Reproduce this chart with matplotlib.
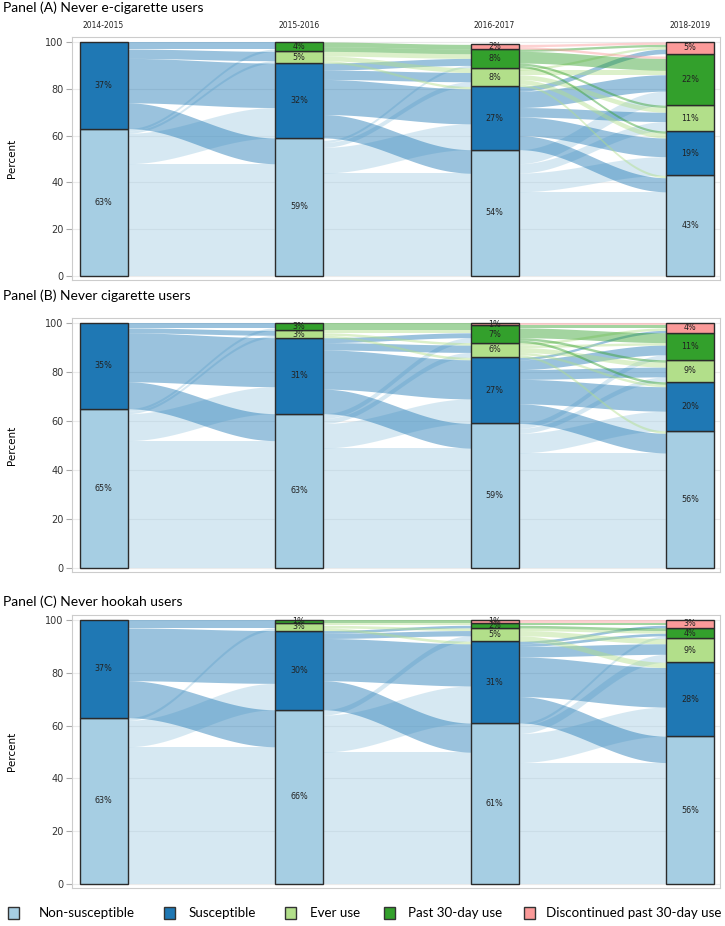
import numpy as np
import matplotlib
matplotlib.use("Agg")
import matplotlib.pyplot as plt
from matplotlib.patches import Rectangle

categories = ["Non-susceptible", "Susceptible", "Ever use", "Past 30-day use",
              "Discontinued past 30-day use"]
waves = ["2014-2015", "2015-2016", "2016-2017", "2018-2019"]
colors = ["#a6cee3", "#1f78b4", "#b2df8a", "#33a02c", "#fb9a99"]

titles = ["Panel (A) Never e-cigarette users",
          "Panel (B) Never cigarette users",
          "Panel (C) Never hookah users"]

# Stratum percentages per wave (NS, S, Ever, Past30, Discontinued)
a_strata = [[63, 37, 0, 0, 0], [59, 32, 5, 4, 0], [54, 27, 8, 8, 2], [43, 19, 11, 22, 5]]
b_strata = [[65, 35, 0, 0, 0], [63, 31, 3, 3, 0], [59, 27, 6, 7, 1], [56, 20, 9, 11, 4]]
c_strata = [[63, 37, 0, 0, 0], [66, 30, 3, 1, 0], [61, 31, 5, 2, 1], [56, 28, 9, 4, 3]]

# Flows between waves (rows = source stratum, cols = destination stratum)
a_flow_1 = [[48, 13, 1, 1, 0], [11, 19, 4, 3, 0]]
a_flow_2 = [[44, 11, 2, 1, 0], [10, 15, 4, 3, 0], [0, 1, 2, 2, 0], [0, 0, 0, 2, 2]]
a_flow_3 = [[36, 8, 4, 6, 0], [6, 8, 4, 7, 2], [1, 2, 2, 2, 1], [0, 1, 1, 5, 1], [0, 0, 0, 1, 1]]

b_flow_1 = [[52, 11, 1, 1, 0], [11, 20, 2, 2, 0]]
b_flow_2 = [[49, 10, 2, 2, 0], [10, 16, 3, 2, 0], [0, 1, 1, 1, 0], [0, 0, 0, 2, 1]]
b_flow_3 = [[47, 8, 2, 2, 0], [8, 10, 4, 4, 1], [1, 1, 2, 1, 1], [0, 1, 1, 4, 1], [0, 0, 0, 0, 1]]

c_flow_1 = [[52, 10, 1, 0, 0], [14, 20, 2, 1, 0]]
c_flow_2 = [[50, 14, 2, 0, 0], [11, 16, 2, 1, 0], [0, 1, 1, 1, 0], [0, 0, 0, 0, 1]]
c_flow_3 = [[46, 11, 3, 1, 0], [10, 15, 4, 1, 1], [0, 2, 2, 1, 0], [0, 0, 0, 1, 1], [0, 0, 0, 0, 1]]

panels = [
    (a_strata, [a_flow_1, a_flow_2, a_flow_3]),
    (b_strata, [b_flow_1, b_flow_2, b_flow_3]),
    (c_strata, [c_flow_1, c_flow_2, c_flow_3]),
]

W, H = 725, 926
fig = plt.figure(figsize=(W / 100, H / 100), dpi=100)

# axes frames in pixels: (top, bottom, y_at_100, y_at_0)
frames = [(37, 280, 42, 276), (318, 572, 323, 568), (615, 888, 620, 884)]
title_y = [8, 296, 602]
left_px, right_px = 72, 720
xc_px = [103.5, 299, 493.5, 690]
spacing = (xc_px[-1] - xc_px[0]) / 3
xlim = ((left_px - xc_px[0]) / spacing, 3 + (right_px - xc_px[-1]) / spacing)
bw = 48 / spacing

title_font = ["Lato", "DejaVu Sans"]

for p, ((strata, flows), (top, bot, y100, y0)) in enumerate(zip(panels, frames)):
    ax = fig.add_axes([left_px / W, 1 - bot / H, (right_px - left_px) / W, (bot - top) / H])
    scale = (y0 - y100) / 100
    ax.set_ylim(-(bot - y0) / scale, 100 + (y100 - top) / scale)
    ax.set_xlim(*xlim)
    for yy in range(0, 101, 20):
        ax.axhline(yy, color="#ebebeb", lw=0.8, zorder=0)

    bottoms = [np.concatenate([[0], np.cumsum(s)[:-1]]) for s in strata]
    t = np.linspace(0, 1, 80)
    sm = (1 - np.cos(np.pi * t)) / 2
    for k, fl in enumerate(flows):
        fl = np.array(fl, dtype=float)
        x0 = k + bw / 2
        x1 = k + 1 - bw / 2
        xs = x0 + (x1 - x0) * t
        src_off = bottoms[k].astype(float).copy()
        dst_off = bottoms[k + 1].astype(float).copy()
        src_pos = {}
        for i in range(fl.shape[0]):
            for j in range(fl.shape[1]):
                src_pos[(i, j)] = src_off[i]
                src_off[i] += fl[i, j]
        dst_pos = {}
        for j in range(fl.shape[1]):
            for i in range(fl.shape[0]):
                dst_pos[(i, j)] = dst_off[j]
                dst_off[j] += fl[i, j]
        for i in range(fl.shape[0]):
            for j in range(fl.shape[1]):
                v = fl[i, j]
                if v <= 0:
                    continue
                s0 = src_pos[(i, j)]
                d0 = dst_pos[(i, j)]
                lower = s0 + (d0 - s0) * sm
                upper = lower + v
                ax.fill_between(xs, lower, upper, color=colors[i], alpha=0.45,
                                lw=0, zorder=1)

    for k, s in enumerate(strata):
        for j, v in enumerate(s):
            if v <= 0:
                continue
            b = bottoms[k][j]
            ax.bar(k, v, bottom=b, width=bw, color=colors[j], edgecolor="#2b2b2b",
                   lw=1.0, zorder=3)
            ax.text(k, b + v / 2, f"{v}%", ha="center", va="center", fontsize=5.8,
                    color="#222222", zorder=4)

    ax.set_xticks([])
    ax.set_yticks(range(0, 101, 20))
    ax.tick_params(axis="y", length=4, width=0.8, color="#aaaaaa", labelsize=7,
                   labelcolor="#333333", pad=2)
    for sp in ax.spines.values():
        sp.set_color("#cccccc")
        sp.set_linewidth(0.8)

    if p == 0:
        for k, wv in enumerate(waves):
            ax.text(k, 1 + 12 / (bot - top), wv, transform=ax.get_xaxis_transform(),
                    ha="center", va="center", fontsize=5.5, color="#222222")

    fig.text(3 / W, 1 - title_y[p] / H, titles[p], ha="left", va="center",
             fontsize=10, family=title_font)
    fig.text(12 / W, 1 - ((top + bot) / 2) / H, "Percent", rotation=90, ha="center",
             va="center", fontsize=7.5, family=["Liberation Sans Narrow", "DejaVu Sans"])

# manual legend
leg_y = 913
sq_x = [8, 164, 285, 384, 524]
txt_x = [39, 189, 310, 408, 546]
for c, lab, sx, tx in zip(colors, categories, sq_x, txt_x):
    fig.patches.append(Rectangle((sx / W, 1 - (leg_y + 6) / H), 11 / W, 12 / H,
                                 transform=fig.transFigure, facecolor=c,
                                 edgecolor="#333333", lw=1))
    fig.text(tx / W, 1 - leg_y / H, lab, ha="left", va="center", fontsize=9.6,
             family=title_font)

fig.savefig("out.png", dpi=100)
